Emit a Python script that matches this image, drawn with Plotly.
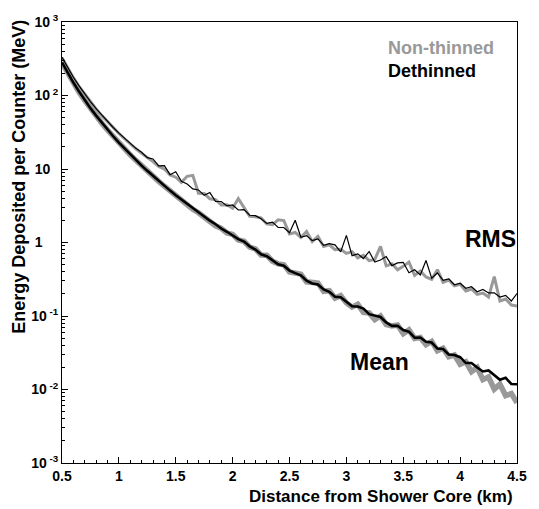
import plotly.graph_objects as go

distance_km = [0.50, 0.55, 0.60, 0.65, 0.70, 0.75, 0.80, 0.85, 0.90, 0.95,
               1.00, 1.05, 1.10, 1.15, 1.20, 1.25, 1.30, 1.35, 1.40, 1.45,
               1.50, 1.55, 1.60, 1.65, 1.70, 1.75, 1.80, 1.85, 1.90, 1.95,
               2.00, 2.05, 2.10, 2.15, 2.20, 2.25, 2.30, 2.35, 2.40, 2.45,
               2.50, 2.55, 2.60, 2.65, 2.70, 2.75, 2.80, 2.85, 2.90, 2.95,
               3.00, 3.05, 3.10, 3.15, 3.20, 3.25, 3.30, 3.35, 3.40, 3.45,
               3.50, 3.55, 3.60, 3.65, 3.70, 3.75, 3.80, 3.85, 3.90, 3.95,
               4.00, 4.05, 4.10, 4.15, 4.20, 4.25, 4.30, 4.35, 4.40, 4.45,
               4.50]

mean_dethinned = [282, 203, 150, 113, 86.5, 67.3, 53.2, 42.5, 34.3, 27.9,
                  22.9, 19.0, 15.8, 13.2, 11.1, 9.44, 8.04, 6.87, 5.90, 5.08,
                  4.40, 3.85, 3.32, 2.95, 2.52, 2.26, 1.98, 1.77, 1.55, 1.40,
                  1.26, 1.11, 1.03, 0.887, 0.802, 0.692, 0.650, 0.575, 0.506, 0.482,
                  0.415, 0.383, 0.358, 0.302, 0.277, 0.269, 0.230, 0.213, 0.183, 0.180,
                  0.158, 0.136, 0.135, 0.126, 0.106, 0.101, 0.0971, 0.0818, 0.0733, 0.0736,
                  0.0644, 0.0611, 0.0506, 0.0509, 0.0447, 0.0436, 0.0361, 0.0356, 0.0299, 0.0295,
                  0.0275, 0.0229, 0.0229, 0.0199, 0.0176, 0.0182, 0.0157, 0.0136, 0.0144, 0.0119,
                  0.0118]

mean_nonthinned = [279, 200, 148, 111, 85.5, 66.5, 52.6, 42.0, 33.9, 27.6,
                   22.6, 18.7, 15.6, 13.1, 11.0, 9.33, 7.94, 6.79, 5.83, 5.02,
                   4.35, 3.72, 3.36, 2.83, 2.54, 2.20, 2.00, 1.69, 1.56, 1.35,
                   1.29, 1.08, 1.04, 0.867, 0.820, 0.676, 0.673, 0.556, 0.512, 0.499,
                   0.396, 0.383, 0.371, 0.292, 0.283, 0.281, 0.217, 0.221, 0.175, 0.189,
                   0.151, 0.132, 0.144, 0.112, 0.110, 0.0893, 0.100, 0.0764, 0.0733, 0.0753,
                   0.0574, 0.0647, 0.0494, 0.0509, 0.0407, 0.0451, 0.0337, 0.0364, 0.0279, 0.0295,
                   0.0221, 0.0239, 0.0175, 0.0199, 0.0136, 0.0148, 0.0101, 0.0118, 0.00828, 0.00879,
                   0.00662]

rms_dethinned = [331, 239, 177, 135, 105, 82.6, 66.2, 53.8, 44.3, 36.7,
                 30.8, 26.1, 22.4, 19.1, 16.9, 14.3, 13.7, 11.0, 11.1, 8.37,
                 9.18, 6.81, 6.25, 5.36, 5.19, 4.38, 4.78, 3.61, 3.61, 3.15,
                 3.24, 2.77, 2.80, 2.35, 2.32, 2.10, 1.82, 1.89, 1.60, 1.60,
                 1.36, 2.01, 1.18, 1.24, 1.06, 1.12, 0.914, 0.964, 0.929, 0.745,
                 1.25, 0.662, 0.701, 0.605, 0.755, 0.542, 0.577, 0.643, 0.484, 0.528,
                 0.538, 0.388, 0.425, 0.361, 0.570, 0.327, 0.385, 0.305, 0.320, 0.266,
                 0.279, 0.238, 0.250, 0.214, 0.230, 0.206, 0.207, 0.181, 0.191, 0.160,
                 0.202]

rms_nonthinned = [327, 236, 175, 133, 104, 81.7, 65.5, 53.2, 43.8, 36.3,
                  30.5, 25.8, 21.9, 18.8, 16.3, 14.5, 12.6, 10.8, 10.0, 8.28,
                  7.73, 6.58, 7.96, 8.20, 4.68, 4.63, 3.93, 3.82, 3.25, 3.26,
                  2.92, 3.96, 2.96, 2.27, 2.24, 2.17, 1.79, 1.75, 2.04, 1.99,
                  1.31, 1.37, 1.17, 1.41, 1.03, 1.21, 0.883, 0.931, 0.800, 0.807,
                  0.710, 0.752, 0.618, 0.671, 0.566, 0.587, 0.883, 0.482, 0.513, 0.425,
                  0.474, 0.542, 0.357, 0.409, 0.340, 0.316, 0.427, 0.288, 0.309, 0.257,
                  0.270, 0.219, 0.233, 0.197, 0.205, 0.181, 0.343, 0.160, 0.170, 0.141,
                  0.137]

y_tick_vals = [0.001, 0.01, 0.1, 1, 10, 100, 1000]
y_tick_text = ["10<sup> -3</sup>", "10<sup> -2</sup>", "10<sup> -1</sup>",
               "1\u00a0\u00a0\u00a0\u00a0", "10\u00a0\u00a0", "10<sup> 2</sup>", "10<sup> 3</sup>"]
y_minor_vals = [m * 10.0 ** e for e in range(-3, 3) for m in range(2, 10)]
x_tick_vals = [0.5, 1, 1.5, 2, 2.5, 3, 3.5, 4, 4.5]
x_tick_text = ["0.5", "1", "1.5", "2", "2.5", "3", "3.5", "4", "4.5"]

GRAY = "#999999"
FONT = "Liberation Sans, Arial, Helvetica, sans-serif"

fig = go.Figure()
fig.add_trace(go.Scatter(x=distance_km, y=rms_nonthinned, mode="lines",
                         line=dict(color=GRAY, width=3), showlegend=False))
fig.add_trace(go.Scatter(x=distance_km, y=mean_nonthinned, mode="lines",
                         line=dict(color=GRAY, width=5.5), showlegend=False))
fig.add_trace(go.Scatter(x=distance_km, y=rms_dethinned, mode="lines",
                         line=dict(color="black", width=1.2), showlegend=False))
fig.add_trace(go.Scatter(x=distance_km, y=mean_dethinned, mode="lines",
                         line=dict(color="black", width=2.6), showlegend=False))

fig.update_layout(
    width=539, height=509,
    margin=dict(l=62, r=14, t=16, b=46),
    paper_bgcolor="white", plot_bgcolor="white",
    font=dict(family=FONT, color="black"),
    xaxis=dict(range=[0.5, 4.5], showgrid=False, zeroline=False,
               showline=True, linecolor="black", linewidth=1, mirror=True,
               ticks="inside", ticklen=6, tickwidth=1, tickcolor="black",
               tickmode="array", tickvals=x_tick_vals, ticktext=x_tick_text,
               tickfont=dict(size=14, family=FONT, weight="bold"),
               minor=dict(ticks="inside", ticklen=3, tickcolor="black", dtick=0.1,
                          showgrid=False)),
    yaxis=dict(type="log", range=[-3, 3], showgrid=False, zeroline=False,
               showline=True, linecolor="black", linewidth=1, mirror=True,
               ticks="inside", ticklen=6, tickwidth=1, tickcolor="black",
               tickmode="array", tickvals=y_tick_vals, ticktext=y_tick_text,
               tickfont=dict(size=14, family=FONT, weight="bold"),
               minor=dict(ticks="inside", ticklen=3, tickcolor="black",
                          tickmode="array", tickvals=y_minor_vals, showgrid=False)),
)

fig.add_annotation(text="RMS", xref="x", yref="y", x=4.27, y=0.05,
                   showarrow=False, font=dict(size=23, family=FONT, weight="bold"))
fig.add_annotation(text="Mean", xref="x", yref="y", x=3.29, y=-1.63,
                   showarrow=False, font=dict(size=23, family=FONT, weight="bold"))
fig.add_annotation(text="Non-thinned", xref="paper", yref="paper", x=0.713, y=0.940,
                   xanchor="left", yanchor="middle", showarrow=False,
                   font=dict(size=18, family=FONT, weight="bold", color=GRAY))
fig.add_annotation(text="Dethinned", xref="paper", yref="paper", x=0.713, y=0.890,
                   xanchor="left", yanchor="middle", showarrow=False,
                   font=dict(size=18, family=FONT, weight="bold", color="black"))
fig.add_annotation(text="Distance from Shower Core (km)", xref="paper", yref="paper",
                   x=0.9957, y=-0.076, xanchor="right", yanchor="middle", showarrow=False,
                   font=dict(size=17, family=FONT, weight="bold"))
fig.add_annotation(text="Energy Deposited per Counter (MeV)", xref="paper", yref="paper",
                   x=-0.095, y=1.009, xanchor="center", yanchor="top", textangle=-90,
                   showarrow=False, font=dict(size=18, family=FONT, weight="bold"))

fig.write_html("out.html")
